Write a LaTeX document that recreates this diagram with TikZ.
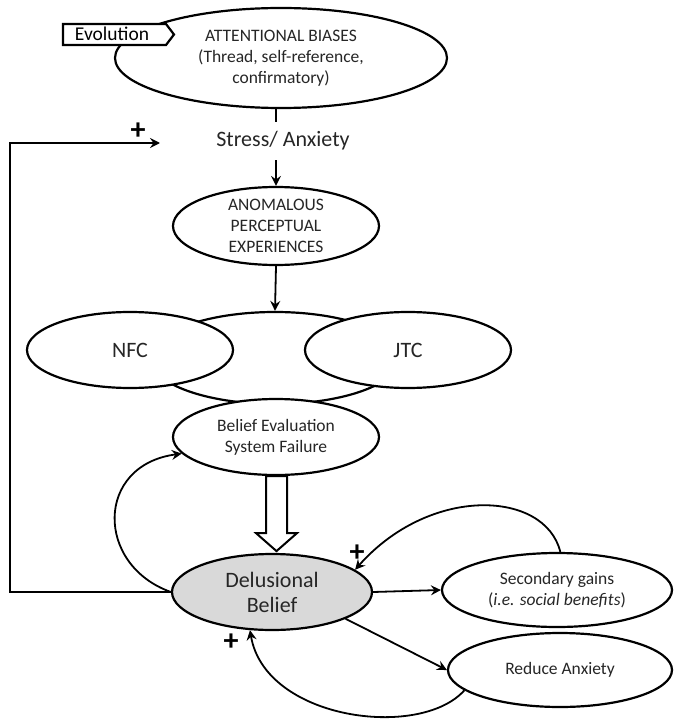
\documentclass[tikz,border=0pt]{standalone}
\usepackage{fontspec}
\setmainfont{Carlito}
\usetikzlibrary{shapes.geometric,arrows.meta}
\begin{document}
\begin{tikzpicture}[x=1pt,y=-1pt,
  ell/.style={ellipse,draw=black,line width=2.2pt,fill=white,inner sep=0pt},
  txt/.style={align=center,text=black!85,inner sep=0pt},
  small/.style={font=\fontsize{17.5}{21}\selectfont},
  big/.style={font=\fontsize{22}{25}\selectfont},
  arr/.style={line width=1.8pt,-{Stealth[length=10pt,width=10pt,inset=3.5pt]}},
  con/.style={line width=1.8pt},
  plus/.style={font=\fontsize{30}{30}\selectfont\bfseries,inner sep=0pt},
]
\useasboundingbox (0,0) rectangle (695,722);

% top ellipse and tag
\node[ell,minimum width=332pt,minimum height=100pt,
  label={[txt,small]center:ATTENTIONAL BIASES\\(Thread, self-reference,\\confirmatory)}] (att) at (281,58) {};
\draw[line width=2.2pt,fill=white] (63,24) -- (166,24) -- (174,34.5) -- (166,45) -- (63,45) -- cycle;
\node[inner sep=0pt,font=\fontsize{19.5}{20}\selectfont] (evo) at (112,34) {Evolution};

% stress
\node[txt,font=\fontsize{22}{24}\selectfont,minimum height=38pt] (stress) at (283,141) {Stress/ Anxiety};

% anomalous
\node[ell,minimum width=206pt,minimum height=78pt,
  label={[txt,small]center:ANOMALOUS\\PERCEPTUAL\\EXPERIENCES}] (anom) at (276,226) {};

% central cluster
\node[ell,minimum width=250pt,minimum height=92pt] (cen) at (275,358) {};
\node[ell,minimum width=206pt,minimum height=76pt,label={[txt,big]center:NFC}] (nfc) at (130,350) {};
\node[ell,minimum width=206pt,minimum height=76pt,label={[txt,big]center:JTC}] (jtc) at (408,350) {};
\node[ell,minimum width=206pt,minimum height=76pt,
  label={[txt,small]center:Belief Evaluation\\System Failure}] (bes) at (276,437) {};

% delusional belief
\node[ell,fill=black!15,minimum width=200pt,minimum height=76pt,
  label={[txt,big]center:Delusional\\Belief}] (del) at (272,592) {};

% outcomes
\node[ell,minimum width=230pt,minimum height=74pt,
  label={[txt,small]center:Secondary gains\\(\textit{i.e. social benefits})}] (sec) at (557,590) {};
\node[ell,minimum width=224pt,minimum height=74pt,
  label={[txt,small]center:Reduce Anxiety}] (red) at (560,670) {};

% connectors
\draw[con] (anom.north |- att.south) -- (anom.north |- stress.north);
\draw[arr] (stress.south -| anom.north) -- (anom.north);
\draw[arr] (anom.south) -- (cen.north);

% hollow arrow
\draw[line width=2pt,fill=white,line join=miter]
  (bes.south) ++(-10,0) -- ++(0,57) -- ++(-10,0) -- ++(20.5,18) -- ++(20.5,-18) -- ++(-10,0) -- ++(0,-57) -- cycle;

% feedback loop to stress
\coordinate (fbcorner) at (10,143);
\coordinate (stressIn) at (160,143);
\draw[arr] (del.west) -| (fbcorner) -- (stressIn);
\node[plus] (p1) at (138,131) {+};

% self loop to belief evaluation
\draw[arr] (del.west) .. controls (95,565) and (95,465) .. (bes.190);

% outputs
\draw[arr] (del.east) -- (sec.west);
\draw[arr] (del.340) -- (red.west);

% return loops
\draw[arr] (sec.85) .. controls (545,490) and (430,485) .. (del.15);
\node[plus] (p2) at (357,553) {+};
\draw[arr] (red.192) .. controls (420,740) and (265,720) .. (del.240);
\node[plus] (p3) at (231,642) {+};
\end{tikzpicture}
\end{document}
